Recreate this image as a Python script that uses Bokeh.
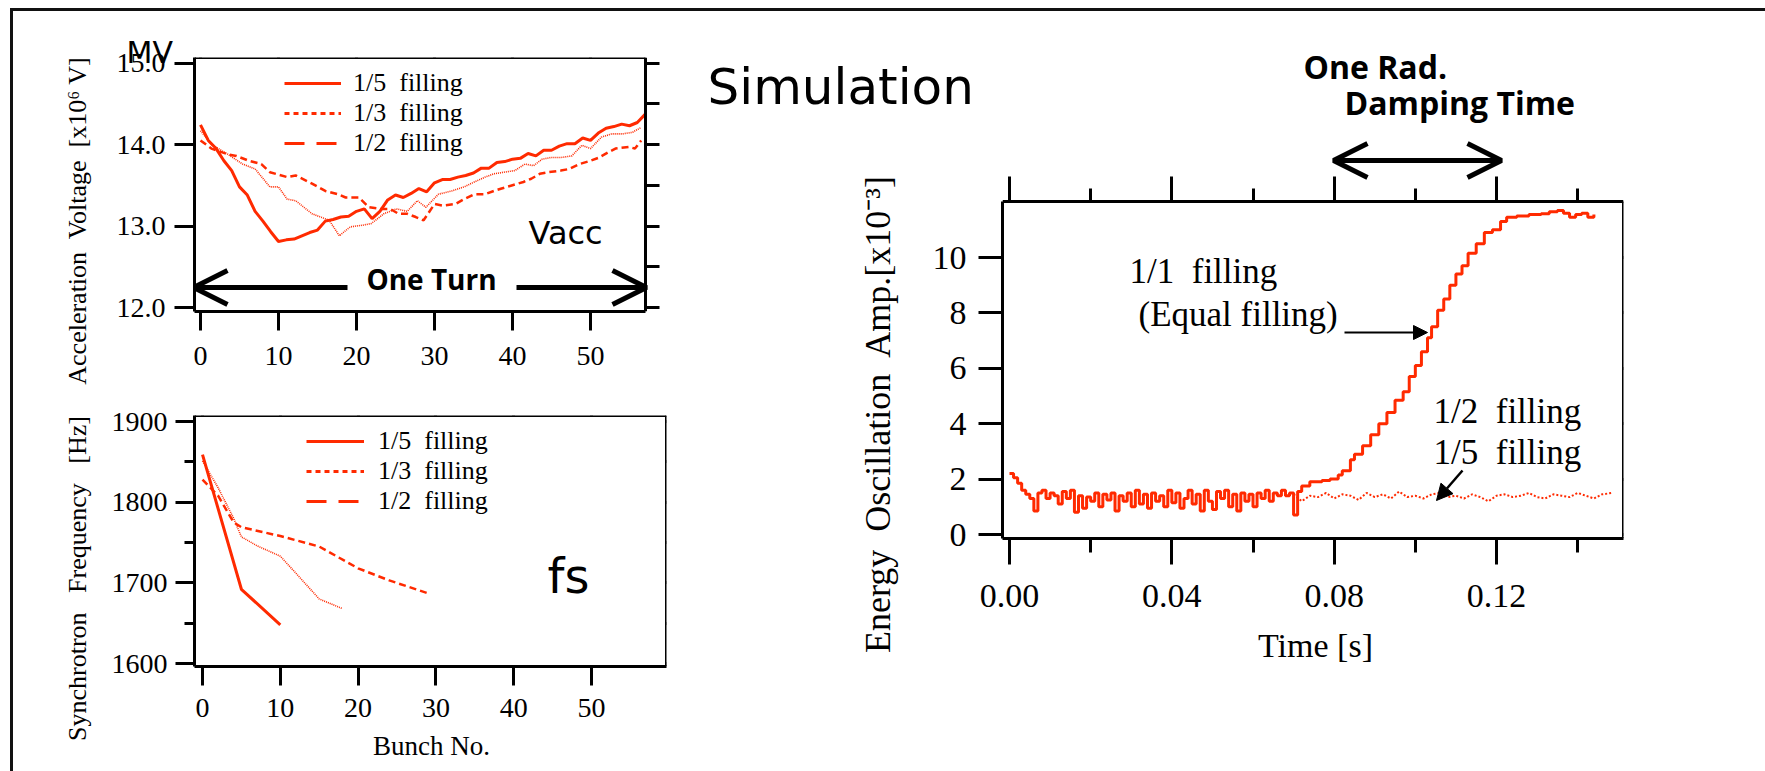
import math
from bokeh.plotting import figure
from bokeh.models import (Range1d, LinearAxis, FixedTicker, Label, Arrow, OpenHead,
                          NormalHead, Legend, LegendItem, ColumnDataSource, NumeralTickFormatter,
                          CustomJSTickFormatter, Div)
from bokeh.layouts import row, column
from bokeh.embed import file_html
from bokeh.resources import INLINE

RED = "#ff2a00"
SERIF = "Liberation Serif"
SANS = "DejaVu Sans"
BOLD = "Open Sans"
GAP1 = "\u00a0 "
GAP2 = "\u00a0\u00a0 "

# ---------------- data ----------------
legend_labels = ["1/5\u00a0 filling", "1/3\u00a0 filling", "1/2\u00a0 filling"]

vacc_bunch_15 = list(range(58))
vacc_15 = [14.24, 14.05, 13.95, 13.80, 13.68, 13.48, 13.38, 13.18, 13.06, 12.93,
           12.81, 12.83, 12.84, 12.88, 12.92, 12.95, 13.06, 13.08, 13.11, 13.12,
           13.18, 13.21, 13.09, 13.18, 13.32, 13.38, 13.35, 13.40, 13.46, 13.42,
           13.53, 13.57, 13.57, 13.60, 13.62, 13.65, 13.71, 13.71, 13.78, 13.79,
           13.82, 13.83, 13.89, 13.86, 13.93, 13.93, 13.98, 14.01, 14.01, 14.08,
           14.05, 14.14, 14.20, 14.22, 14.25, 14.23, 14.27, 14.37]

vacc_bunch_13 = [0, 1.4, 3.5, 5.4, 7.0, 8.9, 10.0, 11.1, 12.2, 14.3, 15.4, 16.5, 17.8,
                 19.2, 20.8, 21.9, 23.5, 25.1, 26.5, 27.8, 28.9, 30.5, 32.2, 33.8, 35.1,
                 36.5, 37.6, 38.9, 40.3, 41.6, 42.7, 43.8, 44.9, 46.2, 47.6, 48.9, 50.0,
                 51.4, 52.7, 54.1, 55.4, 56.5]
vacc_13 = [14.17, 14.00, 13.88, 13.76, 13.70, 13.48, 13.48, 13.33, 13.31, 13.15, 13.11,
           13.07, 12.88, 12.99, 13.01, 13.03, 13.15, 13.21, 13.18, 13.31, 13.23, 13.39,
           13.43, 13.48, 13.54, 13.60, 13.64, 13.66, 13.68, 13.76, 13.74, 13.82, 13.84,
           13.84, 13.86, 13.99, 13.95, 14.09, 14.13, 14.13, 14.15, 14.21]

vacc_bunch_12 = [0, 1.4, 3.5, 4.6, 6.2, 7.8, 8.9, 11.1, 12.2, 14.3, 16.0, 17.6, 18.6,
                 20.3, 21.6, 23.0, 24.3, 25.4, 26.5, 27.6, 28.6, 30.0, 31.1, 32.7, 33.8,
                 35.1, 36.5, 37.6, 38.6, 40.0, 41.4, 42.4, 43.5, 44.6, 46.2, 47.3, 48.6,
                 50.0, 51.1, 52.2, 53.2, 54.9, 55.7, 56.5]
vacc_12 = [14.05, 13.95, 13.88, 13.86, 13.80, 13.76, 13.66, 13.60, 13.62, 13.52, 13.43,
           13.39, 13.35, 13.35, 13.23, 13.21, 13.21, 13.15, 13.15, 13.11, 13.07, 13.27,
           13.25, 13.27, 13.33, 13.39, 13.39, 13.43, 13.46, 13.50, 13.54, 13.58, 13.64,
           13.66, 13.68, 13.70, 13.76, 13.80, 13.84, 13.90, 13.95, 13.97, 13.95, 14.05]

fs_bunch_15 = [0, 5, 10]
fs_15 = [1859, 1692, 1648]
fs_bunch_13 = [0, 2, 4, 5, 7, 10, 12, 15, 18]
fs_13 = [1851, 1818, 1780, 1757, 1746, 1733, 1712, 1680, 1668]
fs_bunch_12 = [0, 2, 4, 5, 10, 15, 20, 24, 29]
fs_12 = [1828, 1808, 1775, 1769, 1758, 1745, 1718, 1703, 1687]

time_11 = [0.000, 0.001, 0.002, 0.003, 0.004, 0.005, 0.006, 0.007, 0.008, 0.009,
           0.010, 0.011, 0.012, 0.013, 0.014, 0.015, 0.016, 0.017, 0.018, 0.019,
           0.020, 0.021, 0.022, 0.023, 0.024, 0.025, 0.026, 0.027, 0.028, 0.029,
           0.030, 0.031, 0.032, 0.033, 0.034, 0.035, 0.036, 0.037, 0.038, 0.039,
           0.040, 0.041, 0.042, 0.043, 0.044, 0.045, 0.046, 0.047, 0.048, 0.049,
           0.050, 0.051, 0.052, 0.053, 0.054, 0.055, 0.056, 0.057, 0.058, 0.059,
           0.060, 0.061, 0.062, 0.063, 0.064, 0.065, 0.066, 0.067, 0.068, 0.069,
           0.070, 0.071, 0.072, 0.074, 0.077, 0.079, 0.081, 0.082, 0.084, 0.085,
           0.087, 0.089, 0.091, 0.093, 0.095, 0.097, 0.0985, 0.100, 0.1015, 0.103,
           0.104, 0.1055, 0.107, 0.1085, 0.110, 0.1115, 0.113, 0.115, 0.117, 0.119,
           0.121, 0.1225, 0.125, 0.128, 0.131, 0.133, 0.135, 0.1365, 0.138, 0.1395,
           0.141, 0.1425, 0.144]
amp_11 = [2.20, 2.05, 1.85, 1.60, 1.45, 1.30, 0.85, 1.50, 1.60, 1.30,
          1.50, 1.40, 1.10, 1.55, 1.30, 1.60, 0.80, 1.40, 0.95, 1.35,
          1.20, 1.50, 1.00, 1.45, 1.25, 1.50, 0.85, 1.40, 1.20, 1.50,
          1.00, 1.60, 1.10, 1.45, 0.95, 1.50, 1.20, 1.40, 1.00, 1.60,
          1.15, 1.50, 0.95, 1.30, 1.60, 1.10, 1.45, 0.85, 1.60, 1.20,
          0.90, 1.55, 1.30, 1.60, 1.00, 1.45, 0.85, 1.50, 1.20, 1.45,
          1.00, 1.50, 1.30, 1.60, 1.20, 1.50, 1.40, 1.60, 1.40, 1.50,
          0.70, 1.55, 1.75, 1.90, 1.95, 2.00, 2.15, 2.30, 2.70, 2.90,
          3.20, 3.60, 4.00, 4.40, 4.85, 5.15, 5.70, 6.10, 6.60, 7.10,
          7.50, 8.10, 8.50, 9.00, 9.40, 9.70, 10.15, 10.50, 10.90, 11.00,
          11.30, 11.45, 11.50, 11.55, 11.58, 11.65, 11.70, 11.60, 11.45, 11.55,
          11.60, 11.45, 11.55]

time_1215 = [0.070, 0.072, 0.074, 0.076, 0.078, 0.080, 0.082, 0.084, 0.086, 0.088,
             0.090, 0.092, 0.094, 0.096, 0.098, 0.100, 0.102, 0.104, 0.106, 0.108,
             0.110, 0.112, 0.114, 0.116, 0.118, 0.120, 0.122, 0.124, 0.126, 0.128,
             0.130, 0.132, 0.134, 0.136, 0.138, 0.140, 0.142, 0.144, 0.146, 0.1485]
amp_1215 = [1.45, 1.20, 1.40, 1.35, 1.50, 1.30, 1.45, 1.40, 1.25, 1.50,
            1.35, 1.45, 1.30, 1.55, 1.35, 1.40, 1.30, 1.45, 1.50, 1.35,
            1.40, 1.30, 1.45, 1.35, 1.20, 1.40, 1.45, 1.35, 1.40, 1.50,
            1.35, 1.30, 1.45, 1.40, 1.35, 1.50, 1.40, 1.30, 1.45, 1.50]

vacc_ticks = [12, 13, 14, 15]
vacc_right_ticks = [12, 12.5, 13, 13.5, 14, 14.5, 15]
bunch_ticks = [0, 10, 20, 30, 40, 50]
fs_ticks = [1600, 1700, 1800, 1900]
fs_minor = [1650, 1750, 1850]
amp_ticks = [0, 2, 4, 6, 8, 10]
time_ticks = [0.0, 0.04, 0.08, 0.12]
time_minor = [0.02, 0.06, 0.10, 0.14]


# ---------------- geometry helpers (page pixels) ----------------
class Geo:
    def __init__(self, ox, oy, w, h, L, R, T, B, xa, xb, ya, yb):
        self.ox, self.oy, self.w, self.h = ox, oy, w, h
        self.L, self.R, self.T, self.B = L, R, T, B
        self.xa, self.ya = xa, ya
        self.sx = (xb[1] - xa[1]) / (xb[0] - xa[0])
        self.sy = (yb[1] - ya[1]) / (yb[0] - ya[0])

    def dx(self, px):
        return self.xa[1] + (px - self.xa[0]) * self.sx

    def dy(self, py):
        return self.ya[1] + (py - self.ya[0]) * self.sy


# page frame: white margin, then a 3px rule on top (y=8..11) and left (x=10..13)
M_TOP, M_LEFT, RULE = 8, 10, 3
X0, Y0 = M_LEFT + RULE, M_TOP + RULE
LEFT_W = 690
# A and B share left/right borders (the column aligns them); A's visible box ends at x=645
A_BOX_RIGHT = 645
gA = Geo(X0, Y0, LEFT_W - X0, 390 - Y0, 194, 666, 57, 311, (200, 0), (590, 50), (307, 12), (62.5, 15))
gB = Geo(X0, 390, LEFT_W - X0, 381, 194, 666, 415, 666, (202, 0), (591, 50), (663, 1600), (421, 1900))
# frame of C is extended upwards (to y=40); the visible box top is a fixed-location axis at y=201
C_BOX_TOP = 201
gC = Geo(LEFT_W, Y0, 1765 - LEFT_W, 771 - Y0, 1002, 1623, 40, 538,
         (1009, 0.0), (1496, 0.12), (534, 0), (257, 10))


def make_fig(g):
    p = figure(width=g.w, height=g.h,
               x_range=Range1d(g.dx(g.L), g.dx(g.R)),
               y_range=Range1d(g.dy(g.B), g.dy(g.T)),
               output_backend="svg", toolbar_location=None,
               min_border_left=g.L - g.ox, min_border_right=g.ox + g.w - g.R,
               min_border_top=g.T - g.oy, min_border_bottom=g.oy + g.h - g.B)
    p.grid.visible = False
    p.outline_line_color = None
    p.background_fill_color = "white"
    p.border_fill_color = "white"
    return p


def style_axis(ax, ticks, minor=None, out=20, minor_out=10, labels=True,
               fmt=None, size="27px", standoff=8):
    ax.ticker = FixedTicker(ticks=ticks, minor_ticks=minor or [])
    ax.major_tick_out = out
    ax.major_tick_in = 0
    ax.minor_tick_out = minor_out
    ax.minor_tick_in = 0
    ax.axis_line_width = 3
    ax.axis_line_color = "black"
    ax.major_tick_line_width = 3
    ax.major_tick_line_color = "black"
    ax.minor_tick_line_width = 3
    ax.minor_tick_line_color = "black" if minor else None
    if labels:
        ax.major_label_text_font = SERIF
        ax.major_label_text_font_size = size
        ax.major_label_text_color = "black"
        ax.major_label_standoff = standoff
        if fmt:
            ax.formatter = NumeralTickFormatter(format=fmt)
    else:
        ax.formatter = CustomJSTickFormatter(code="return ''")
        ax.major_label_standoff = 0


def add_axes(p, g, top_ticks, right_ticks, top_out, right_out, top_minor=None, right_minor=None,
             top_minor_out=10, right_minor_out=10, top_px=None, right_px=None,
             top_bounds="auto", right_bounds="auto"):
    # tick-only axes pinned at the box edges (a pinned axis takes no border space)
    top = LinearAxis(fixed_location=g.dy(top_px if top_px is not None else g.T), bounds=top_bounds)
    p.add_layout(top, "above")
    style_axis(top, top_ticks, top_minor, top_out, top_minor_out, labels=False)
    right = LinearAxis(fixed_location=g.dx(right_px if right_px is not None else g.R),
                       bounds=right_bounds)
    p.add_layout(right, "right")
    style_axis(right, right_ticks, right_minor, right_out, right_minor_out, labels=False)


def text(p, g, px, py, s, font, size, align="left", baseline="alphabetic", style="normal",
         angle=0, side=None):
    fpx = float(size.replace("px", ""))
    if baseline == "alphabetic":
        py = py - 0.34 * fpx  # measured offset of the svg alphabetic baseline
    lab = Label(x=g.dx(px), y=g.dy(py),
                text=s, text_font=font, text_font_size=size, text_color="black",
                text_align=align, text_baseline=baseline, text_font_style=style,
                angle=angle)
    if side:
        p.add_layout(lab, side)
    else:
        p.add_layout(lab)


def seg(p, g, x1, y1, x2, y2, width=3, start=None, end=None, color="black"):
    p.add_layout(Arrow(x_start=g.dx(x1), y_start=g.dy(y1), x_end=g.dx(x2), y_end=g.dy(y2),
                       start=start, end=end, line_width=width, line_color=color))


def legend(p, loc, row_h, glyph_w, standoff):
    styles = [dict(line_dash="solid", line_width=3),
              dict(line_dash="5 4", line_width=3),
              dict(line_dash="20 12", line_width=3)]
    items = []
    for lab, st in zip(legend_labels, styles):
        r = p.line(x="x", y="y",
                   source=ColumnDataSource(data=dict(x=[float("nan")], y=[float("nan")])),
                   line_color=RED, **st)
        items.append(LegendItem(label=lab, renderers=[r]))
    lg = Legend(items=items, location=loc, border_line_color=None, background_fill_alpha=0,
                padding=0, margin=0, spacing=0, glyph_width=glyph_w, glyph_height=row_h,
                label_height=row_h, label_standoff=standoff, label_text_font=SERIF,
                label_text_font_size="26px", label_text_color="black")
    p.add_layout(lg)


def open_head():
    return OpenHead(size=34, line_width=5, line_color="black")


# ---------------- figure A: acceleration voltage ----------------
pA = make_fig(gA)
a_xbounds = (gA.dx(gA.L), gA.dx(A_BOX_RIGHT))
style_axis(pA.xaxis[0], bunch_ticks, out=19, size="28px", standoff=16)
pA.xaxis[0].bounds = a_xbounds
style_axis(pA.yaxis[0], vacc_ticks, out=20, fmt="0.0", size="28px", standoff=9)
add_axes(pA, gA, bunch_ticks, vacc_right_ticks, 20, 14, right_px=A_BOX_RIGHT,
         top_bounds=a_xbounds)

pA.line(vacc_bunch_15, vacc_15, line_color=RED, line_width=3)
pA.line(vacc_bunch_13, vacc_13, line_color=RED, line_width=1.6, line_dash="1 1")
pA.line(vacc_bunch_12, vacc_12, line_color=RED, line_width=2.5, line_dash="7 4")
legend(pA, (90, 153), 30, 57, 12)

text(pA, gA, 528, 243, "Vacc", SANS, "32px")
text(pA, gA, 431, 288, "One Turn", BOLD, "28px", align="center", style="bold")
seg(pA, gA, 347, 287, 193, 287, width=5, end=open_head())
seg(pA, gA, 516, 287, 646, 287, width=5, end=open_head())
text(pA, gA, 126, 62, "MV", SANS, "30px", side="left")
text(pA, gA, 77, 220, "Acceleration" + GAP1 + "Voltage" + GAP1 + "[x10\u2076 V]", SERIF, "26px",
     align="center", baseline="middle", angle=math.pi / 2, side="left")

# ---------------- figure B: synchrotron frequency ----------------
pB = make_fig(gB)
style_axis(pB.xaxis[0], bunch_ticks, out=19, size="28px", standoff=13)
style_axis(pB.yaxis[0], fs_ticks, fs_minor, out=19, minor_out=10, fmt="0", size="28px", standoff=8)
add_axes(pB, gB, bunch_ticks, fs_ticks, 16, 20, right_minor=fs_minor, right_minor_out=10)

pB.line(fs_bunch_15, fs_15, line_color=RED, line_width=3)
pB.line(fs_bunch_13, fs_13, line_color=RED, line_width=1.6, line_dash="1 1")
pB.line(fs_bunch_12, fs_12, line_color=RED, line_width=2.5, line_dash="7 4")
legend(pB, (112, 150), 30, 58, 14)

text(pB, gB, 547, 592, "fs", SANS, "48px")
text(pB, gB, 431, 755, "Bunch No.", SERIF, "27px", align="center", side="below")
text(pB, gB, 77, 578, "Synchrotron" + GAP2 + "Frequency" + GAP2 + "[Hz]", SERIF, "26px",
     align="center", baseline="middle", angle=math.pi / 2, side="left")

# ---------------- figure C: energy oscillation ----------------
pC = make_fig(gC)
box_bounds = (gC.dy(gC.B), gC.dy(C_BOX_TOP))
style_axis(pC.xaxis[0], time_ticks, time_minor, out=26, minor_out=14, fmt="0.00",
           size="34px", standoff=20)
style_axis(pC.yaxis[0], amp_ticks, out=24, fmt="0", size="34px", standoff=12)
pC.yaxis[0].bounds = box_bounds
add_axes(pC, gC, time_ticks, amp_ticks, 25, 26, top_minor=time_minor, top_minor_out=13,
         top_px=C_BOX_TOP, right_bounds=box_bounds)

pC.line(time_1215, amp_1215, line_color=RED, line_width=2, line_dash="2 2")
pC.step(time_11, amp_11, line_color=RED, line_width=3, mode="after")

text(pC, gC, 1303, 77, "One Rad.", BOLD, "32px", style="bold")
text(pC, gC, 1344, 113, "Damping Time", BOLD, "32px", style="bold")
text(pC, gC, 1129, 283, "1/1\u00a0 filling", SERIF, "35px")
text(pC, gC, 1138, 326, "(Equal filling)", SERIF, "35px")
text(pC, gC, 1433, 423, "1/2\u00a0 filling", SERIF, "35px")
text(pC, gC, 1433, 464, "1/5\u00a0 filling", SERIF, "35px")
text(pC, gC, 707, 103, "Simulation", SANS, "50px", side="below")
text(pC, gC, 1315, 657, "Time [s]", SERIF, "34px", align="center", side="below")
text(pC, gC, 877, 413, "Energy" + GAP1 + "Oscillation" + GAP1 + "Amp.[x10\u207b\u00b3]", SERIF, "36px",
     align="center", baseline="middle", angle=math.pi / 2, side="left")

seg(pC, gC, 1333, 160, 1501, 160, width=5, start=open_head(), end=open_head())
seg(pC, gC, 1344, 332, 1427, 332, width=2,
    end=NormalHead(size=14, fill_color="black", line_color="black"))
seg(pC, gC, 1462, 470, 1436, 500, width=2.5,
    end=NormalHead(size=16, fill_color="black", line_color="black"))


# ---------------- page layout with the outer rules ----------------
def block(w, h, color=None):
    st = {"background-color": color} if color else {}
    return Div(text="", width=w, height=h, margin=0, styles=st)


content = row(column(pA, pB), pC)
layout = column(
    block(1765, M_TOP),
    row(block(M_LEFT, RULE), block(1765 - M_LEFT, RULE, "#111111")),
    row(block(M_LEFT, 771 - Y0), block(RULE, 771 - Y0, "#111111"), content),
)
open("out.html", "w").write(file_html(layout, INLINE))
